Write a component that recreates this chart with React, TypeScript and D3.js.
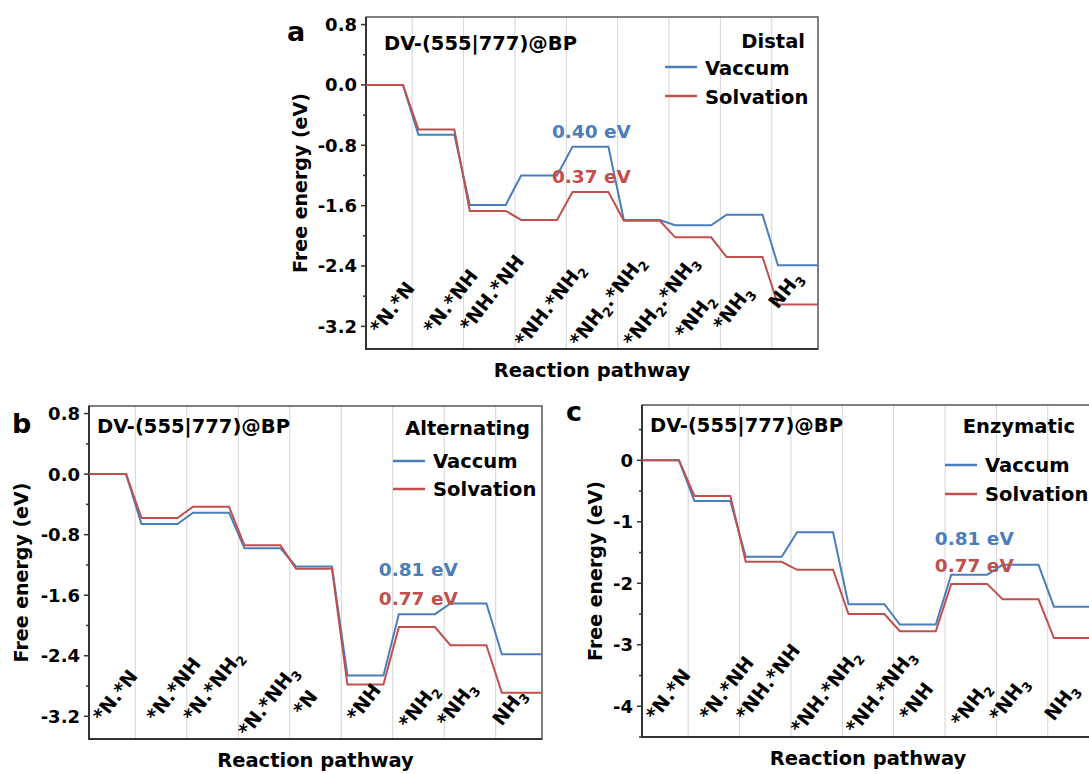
import React, { useEffect, useRef } from 'react';
import * as d3 from 'd3';

const W = 1089;
const H = 774;
const FONT = "'DejaVu Sans', 'Liberation Sans', sans-serif";
const BLUE = '#4a7ebb';
const RED = '#c0504d';

// "_n" marks a subscript digit
const statesA = ['*N.*N', '*N.*NH', '*NH.*NH', '*NH.*NH_2', '*NH_2.*NH_2', '*NH_2.*NH_3', '*NH_2', '*NH_3', 'NH_3'];
const vacuumA = [0, -0.66, -1.59, -1.2, -0.82, -1.79, -1.86, -1.72, -2.39];
const solvationA = [0, -0.59, -1.67, -1.79, -1.42, -1.8, -2.02, -2.28, -2.91];

const statesB = ['*N.*N', '*N.*NH', '*N.*NH_2', '*N.*NH_3', '*N', '*NH', '*NH_2', '*NH_3', 'NH_3'];
const vacuumB = [0, -0.66, -0.51, -0.98, -1.22, -2.66, -1.85, -1.71, -2.38];
const solvationB = [0, -0.58, -0.43, -0.94, -1.25, -2.78, -2.02, -2.26, -2.89];

const statesC = ['*N.*N', '*N.*NH', '*NH.*NH', '*NH.*NH_2', '*NH.*NH_3', '*NH', '*NH_2', '*NH_3', 'NH_3'];
const vacuumC = [0, -0.66, -1.57, -1.17, -2.34, -2.67, -1.86, -1.7, -2.38];
const solvationC = [0, -0.58, -1.65, -1.78, -2.5, -2.78, -2.01, -2.26, -2.89];

const ticksAB = [0.8, 0.0, -0.8, -1.6, -2.4, -3.2];
const ticksC = [0, -1, -2, -3, -4];

const barrierA = ['0.40 eV', '0.37 eV'];
const barrierB = ['0.81 eV', '0.77 eV'];
const barrierC = ['0.81 eV', '0.77 eV'];

// layout: where the rotated state labels start (band units) and how far above the axis
const labelStart = [0.3, 1.34, 2.05, 3.12, 4.19, 5.23, 6.24, 6.98, 8.06];
const dropA = [-19, -19, -21, -6, -6, -6, -14, -22, -44];
const dropB = [-21, -21, -21, -6, -27, -21, -14, -16, -17];
const dropC = [-20, -20, -20, -7, -7, -20, -14, -19, -20];

const panels = [
  {
    letter: 'a', letterX: 287, letterY: 41,
    left: 366, top: 17, width: 452, height: 332, yDomain: [-3.5, 0.9],
    ticks: ticksAB, fmt: (d: number) => d.toFixed(1),
    states: statesA, vac: vacuumA, sol: solvationA, drops: dropA,
    mode: 'Distal', titleDx: 18, titleDy: 33, modeDx: -13, modeDy: 31,
    legX: -153, legY: [50, 79], legTextDy: 8,
    barrier: barrierA, barrierAt: [3.72, -0.7, -1.3],
    yTitleX: -59,
  },
  {
    letter: 'b', letterX: 12, letterY: 433,
    left: 89, top: 406, width: 453, height: 333, yDomain: [-3.5, 0.9],
    ticks: ticksAB, fmt: (d: number) => d.toFixed(1),
    states: statesB, vac: vacuumB, sol: solvationB, drops: dropB,
    mode: 'Alternating', titleDx: 8, titleDy: 27, modeDx: -12, modeDy: 29,
    legX: -149, legY: [55, 83], legTextDy: 7,
    barrier: barrierB, barrierAt: [5.73, -1.34, -1.73],
    yTitleX: -61,
  },
  {
    letter: 'c', letterX: 566, letterY: 421,
    left: 642, top: 405, width: 452, height: 332, yDomain: [-4.5, 0.9],
    ticks: ticksC, fmt: (d: number) => String(d),
    states: statesC, vac: vacuumC, sol: solvationC, drops: dropC,
    mode: 'Enzymatic', titleDx: 8, titleDy: 27, modeDx: -19, modeDy: 28,
    legX: -149, legY: [60, 89], legTextDy: 7,
    barrier: barrierC, barrierAt: [5.8, -1.38, -1.82],
    yTitleX: -40,
  },
];

function richText(sel: any, str: string, sub: number) {
  const parts = str.split(/(_\d)/).filter((p) => p.length);
  let down = false;
  parts.forEach((p) => {
    if (p.startsWith('_')) {
      sel.append('tspan').attr('font-size', sub).attr('dy', 5).text(p.slice(1));
      down = true;
    } else {
      sel.append('tspan').attr('dy', down ? -5 : 0).text(p);
      down = false;
    }
  });
}

function stepPoints(values: number[], x0: number, x1: number) {
  const pts: [number, number][] = [];
  values.forEach((v, i) => {
    pts.push([i === 0 ? x0 : i + 0.12, v]);
    pts.push([i === values.length - 1 ? x1 : i + 0.82, v]);
  });
  return pts;
}

export default function App() {
  const svgRef = useRef<SVGSVGElement>(null);

  useEffect(() => {
    if (!svgRef.current) return;
    const svg = d3.select(svgRef.current);
    svg.selectAll('*').remove();

    svg.append('rect').attr('width', W).attr('height', H).attr('fill', '#fff');

    panels.forEach((p) => {
      const g = svg.append('g');
      const right = p.left + p.width;
      const bottom = p.top + p.height;
      const xDom: [number, number] = [0.1, 8.9];
      const x = d3.scaleLinear().domain(xDom).range([p.left, right]);
      const y = d3.scaleLinear().domain(p.yDomain).range([bottom, p.top]);

      // vertical grid at state boundaries
      g.selectAll('line.grid')
        .data(d3.range(1, p.states.length))
        .join('line')
        .attr('x1', (d) => x(d)).attr('x2', (d) => x(d))
        .attr('y1', p.top).attr('y2', bottom)
        .attr('stroke', '#d4d4d4').attr('stroke-width', 1);

      // frame
      g.append('rect')
        .attr('x', p.left).attr('y', p.top)
        .attr('width', p.width).attr('height', p.height)
        .attr('fill', 'none').attr('stroke', '#555').attr('stroke-width', 1.5);
      g.append('path')
        .attr('d', `M${p.left},${p.top}V${bottom}H${right}`)
        .attr('fill', 'none').attr('stroke', '#333').attr('stroke-width', 2);

      // y ticks
      const step = p.ticks[0] - p.ticks[1];
      const minor = d3.range(p.ticks.length + 1)
        .map((i) => p.ticks[0] + step / 2 - i * step)
        .filter((v) => v >= p.yDomain[0] - 1e-6 && v <= p.yDomain[1]);
      g.selectAll('line.minor').data(minor).join('line')
        .attr('x1', p.left - 3).attr('x2', p.left)
        .attr('y1', (d) => y(d)).attr('y2', (d) => y(d))
        .attr('stroke', '#333').attr('stroke-width', 1.5);
      g.selectAll('line.major').data(p.ticks).join('line')
        .attr('x1', p.left - 5).attr('x2', p.left)
        .attr('y1', (d) => y(d)).attr('y2', (d) => y(d))
        .attr('stroke', '#333').attr('stroke-width', 1.5);
      g.selectAll('text.tick').data(p.ticks).join('text')
        .attr('x', p.left - 9).attr('y', (d) => y(d)).attr('dy', '0.36em')
        .attr('text-anchor', 'end')
        .attr('font-family', FONT).attr('font-weight', 'bold').attr('font-size', 18)
        .text((d) => p.fmt(d));

      // energy profiles
      const line = d3.line<[number, number]>().x((d) => x(d[0])).y((d) => y(d[1]));
      [[p.vac, BLUE], [p.sol, RED]].forEach(([vals, col]) => {
        g.append('path')
          .datum(stepPoints(vals as number[], xDom[0], xDom[1]))
          .attr('fill', 'none').attr('stroke', col as string)
          .attr('stroke-width', 2).attr('d', line);
      });

      // state labels
      p.states.forEach((s, i) => {
        const tx = x(labelStart[i]) + 3;
        const ty = bottom + p.drops[i] + 5;
        const t = g.append('text')
          .attr('transform', `translate(${tx},${ty}) rotate(-52)`)
          .attr('font-family', FONT).attr('font-weight', 'bold').attr('font-size', 19);
        richText(t, s, 13);
      });

      // axis titles
      g.append('text')
        .attr('transform', `translate(${p.left + p.yTitleX},${(p.top + bottom) / 2}) rotate(-90)`)
        .attr('text-anchor', 'middle')
        .attr('font-family', FONT).attr('font-weight', 'bold').attr('font-size', 19)
        .text('Free energy (eV)');
      g.append('text')
        .attr('x', (p.left + right) / 2).attr('y', bottom + 28)
        .attr('text-anchor', 'middle')
        .attr('font-family', FONT).attr('font-weight', 'bold').attr('font-size', 19.5)
        .text('Reaction pathway');

      // panel letter
      g.append('text')
        .attr('x', p.letterX).attr('y', p.letterY)
        .attr('font-family', FONT).attr('font-weight', 'bold').attr('font-size', 27)
        .text(p.letter);

      // headings
      g.append('text')
        .attr('x', p.left + p.titleDx).attr('y', p.top + p.titleDy)
        .attr('font-family', FONT).attr('font-weight', 'bold').attr('font-size', 19.5)
        .text('DV-(555|777)@BP');
      g.append('text')
        .attr('x', right + p.modeDx).attr('y', p.top + p.modeDy)
        .attr('text-anchor', 'end')
        .attr('font-family', FONT).attr('font-weight', 'bold').attr('font-size', 19.5)
        .text(p.mode);

      // legend
      [['Vaccum', BLUE], ['Solvation', RED]].forEach(([name, col], k) => {
        const ly = p.top + p.legY[k];
        g.append('line')
          .attr('x1', right + p.legX).attr('x2', right + p.legX + 32)
          .attr('y1', ly).attr('y2', ly)
          .attr('stroke', col).attr('stroke-width', 2.5);
        g.append('text')
          .attr('x', right + p.legX + 40).attr('y', ly + p.legTextDy)
          .attr('font-family', FONT).attr('font-weight', 'bold').attr('font-size', 19.5)
          .text(name);
      });

      // barrier annotations
      const [bu, by1, by2] = p.barrierAt;
      g.append('text')
        .attr('x', x(bu)).attr('y', y(by1))
        .attr('fill', BLUE)
        .attr('font-family', FONT).attr('font-weight', 'bold').attr('font-size', 18.5)
        .text(p.barrier[0]);
      g.append('text')
        .attr('x', x(bu)).attr('y', y(by2))
        .attr('fill', RED)
        .attr('font-family', FONT).attr('font-weight', 'bold').attr('font-size', 18.5)
        .text(p.barrier[1]);
    });
  }, []);

  return (
    <svg
      ref={svgRef}
      width={W}
      height={H}
      viewBox={`0 0 ${W} ${H}`}
      style={{ position: 'absolute', left: 0, top: 0, display: 'block' }}
    />
  );
}
